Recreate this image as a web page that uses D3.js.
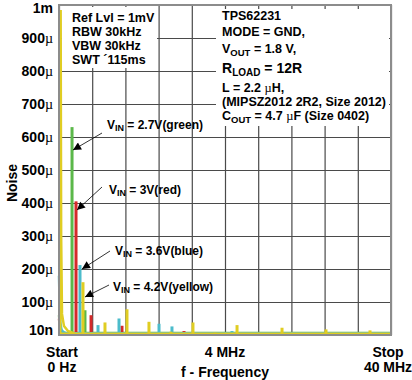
<!DOCTYPE html>
<html><head><meta charset="utf-8">
<script src="https://cdn.jsdelivr.net/npm/d3@7"></script>
<style>body{margin:0;background:#fff}svg{display:block;font-family:"Liberation Sans",Arial,sans-serif}</style>
</head><body><svg id="c" width="412" height="380"></svg>
<script>
// ---- data (frequency in MHz, noise in µV) ----
const yTickValues = [0,100,200,300,400,500,600,700,800,900,1000];
const yTickNums   = ["10n","100","200","300","400","500","600","700","800","900","1m"];
const yTickUnits  = ["","µ","µ","µ","µ","µ","µ","µ","µ","µ",""];
const xGridValues = [0,4,8,12,16,20,24,28,32,36,40];
const xTickLabels = [["Start","0 Hz"],["4 MHz",""],["Stop","40 MHz"]];
const xTickPos    = [0,20,40];

const seriesNames  = ["green","red","blue","yellow"];
const seriesColors = ["#5bb84a","#d42a2a","#4cbccb","#e0cd22"];

const greenPeakF  = [1.57,3.13,5.9,9.16,10.5,12.17,17.35,22.17,29.0,37.5];
const greenPeakA  = [630,75,9,7,5,6,5,4,4,4];
const redPeakF    = [2.05,3.86,7.59,11.33,15.06,16.99,22.89,25.18,34.7,38.4];
const redPeakA    = [405,60,28,8,12,6,7,5,4,4];
const bluePeakF   = [2.53,4.70,7.23,12.05,13.61,18.80,20.84,23.86,28.67,33.49,38.19];
const bluePeakA   = [212,30,50,34,26,7,12,7,6,5,5];
const yellowPeakF = [2.89,5.54,8.19,10.84,13.49,16.14,18.80,21.45,24.10,26.87,29.52,32.17,34.82,37.47];
const yellowPeakA = [160,38,78,40,10,38,7,30,6,22,5,17,5,14];

// low-frequency (near 0 Hz) trace points
const greenDcF  = [0.0,0.1,0.3,0.6,1.2];
const greenDcA  = [60,30,12,6,4];
const redDcF    = [0.0,0.1,0.3,0.6,1.2];
const redDcA    = [50,25,10,5,4];
const blueDcF   = [0.0,0.05,0.15,0.3,0.6,1.0];
const blueDcA   = [180,120,40,15,8,4];
const yellowDcF = [0.15,0.2,0.26,0.36,0.6,1.08,1.9];
const yellowDcA = [4,985,300,64,27,12,4];

const floorF = [0,40];
const floorLevels = [6,5,5,3.5];

// ---- layout ----
const svg = d3.select("#c");
const L=59,R=391,T=5,B=335;
const x = d3.scaleLinear().domain([0,40]).range([L,R]);
const y = d3.scaleLinear().domain([0,1000]).range([B,T]);

// grid
svg.append("g").attr("transform",`translate(0,${B})`)
  .call(d3.axisBottom(x).tickValues(xGridValues).tickSize(-(B-T)).tickFormat(""))
  .call(g=>g.select(".domain").remove())
  .selectAll("line").attr("stroke","#4a4a4a").attr("stroke-width",1.2);
svg.append("g").attr("transform",`translate(${L},0)`)
  .call(d3.axisLeft(y).tickValues(yTickValues).tickSize(-(R-L)).tickFormat(""))
  .call(g=>g.select(".domain").remove())
  .selectAll("line").attr("stroke","#4a4a4a").attr("stroke-width",1.2);

// annotation boxes (white)
svg.append("rect").attr("x",62).attr("y",7).attr("width",95).attr("height",61).attr("fill","#fff");
svg.append("rect").attr("x",216).attr("y",9).attr("width",173).attr("height",117).attr("fill","#fff");

// data
const peaks = [
  [greenPeakF,greenPeakA],[redPeakF,redPeakA],[bluePeakF,bluePeakA],[yellowPeakF,yellowPeakA]];
const dcs = [
  [greenDcF,greenDcA],[redDcF,redDcA],[blueDcF,blueDcA],[yellowDcF,yellowDcA]];
const line = d3.line().x(d=>x(d[0])).y(d=>y(d[1]));
seriesNames.forEach((n,i)=>{
  const g = svg.append("g").attr("class","s-"+n);
  g.append("path").datum(floorF.map(f=>[f,floorLevels[i]]))
    .attr("d",line).attr("fill","none").attr("stroke",seriesColors[i]).attr("stroke-width",2.5);
  g.append("path").datum(dcs[i][0].map((f,k)=>[f,dcs[i][1][k]]))
    .attr("d",line).attr("fill","none").attr("stroke",seriesColors[i]).attr("stroke-width",2.5);
  g.selectAll("rect").data(peaks[i][0].map((f,k)=>[f,peaks[i][1][k]])).join("rect")
    .attr("x",d=>x(d[0])-1.5).attr("width",3)
    .attr("y",d=>y(d[1])).attr("height",d=>y(0)-y(d[1]))
    .attr("fill",seriesColors[i]);
});

// frame
svg.append("rect").attr("x",L).attr("y",T).attr("width",R-L).attr("height",B-T)
  .attr("fill","none").attr("stroke","#8c8c8c").attr("stroke-width",2);

// y tick labels
const yl = svg.append("g").attr("font-size",14).attr("font-weight","bold").attr("text-anchor","end");
yTickValues.forEach((v,i)=>{
  let yy = y(v);
  if(i===0) yy = B-5;
  if(i===yTickValues.length-1) yy = T+3;
  const t = yl.append("text").attr("x",53).attr("y",yy).attr("dy","0.35em");
  t.append("tspan").text(yTickNums[i]);
  if(yTickUnits[i]) t.append("tspan").attr("font-weight","normal").attr("font-family","Liberation Serif, serif").text(yTickUnits[i]);
});

// x labels
const xl = svg.append("g").attr("font-size",14).attr("font-weight","bold").attr("text-anchor","middle");
xTickLabels.forEach((lab,i)=>{
  let xx = x(xTickPos[i]);
  if(i===0) xx = x(xTickPos[i])+3;
  if(i===2) xx = x(xTickPos[i])-3;
  xl.append("text").attr("x",xx).attr("y",357).text(lab[0]);
  if(lab[1]) xl.append("text").attr("x",xx).attr("y",372).text(lab[1]);
});
xl.append("text").attr("x",x(20)).attr("y",377).text("f - Frequency");
svg.append("text").attr("transform","translate(17,183) rotate(-90)").attr("text-anchor","middle")
  .attr("font-size",14).attr("font-weight","bold").text("Noise");

// left info box text
const lb = svg.append("g").attr("font-size",12.5).attr("font-weight","bold");
["Ref Lvl = 1mV","RBW 30kHz","VBW 30kHz","SWT ´115ms"].forEach((s,i)=>{
  lb.append("text").attr("x",72).attr("y",22+i*14).text(s);
});

// right info box text
const rb = svg.append("g").attr("font-size",12.5).attr("font-weight","bold");
function sub(t, parts){
  parts.forEach(p=>{
    const ts = t.append("tspan").text(p.t);
    if(p.sub) ts.attr("font-size",p.sub).attr("baseline-shift","-25%");
    if(p.sym) ts.attr("font-weight","normal").attr("font-family","Liberation Serif, serif");
  });
}
sub(rb.append("text").attr("x",222).attr("y",20),[{t:"TPS62231"}]);
sub(rb.append("text").attr("x",222).attr("y",36),[{t:"MODE = GND,"}]);
sub(rb.append("text").attr("x",222).attr("y",53),[{t:"V"},{t:"OUT",sub:9.5},{t:" = 1.8 V,"}]);
sub(rb.append("text").attr("x",222).attr("y",73).attr("font-size",14),[{t:"R"},{t:"LOAD",sub:10},{t:" = 12R"}]);
sub(rb.append("text").attr("x",222).attr("y",92),[{t:"L = 2.2 "},{t:"µ",sym:1},{t:"H,"}]);
sub(rb.append("text").attr("x",222).attr("y",106),[{t:"(MIPSZ2012 2R2, Size 2012)"}]);
sub(rb.append("text").attr("x",222).attr("y",120),[{t:"C"},{t:"OUT",sub:9.5},{t:" = 4.7 "},{t:"µ",sym:1},{t:"F (Size 0402)"}]);

// annotations
svg.append("defs").append("marker").attr("id","ah").attr("viewBox","0 0 10 10")
  .attr("refX",10).attr("refY",5).attr("markerWidth",10).attr("markerHeight",8)
  .attr("markerUnits","userSpaceOnUse").attr("orient","auto")
  .append("path").attr("d","M0,0L10,5L0,10Z").attr("fill","#000");
const ann = [
  {tx:107,ty:129,v:"2.7V(green)",x1:102,y1:133,x2:73,y2:150},
  {tx:109,ty:194,v:"3V(red)",x1:102,y1:187,x2:77,y2:210},
  {tx:115,ty:255,v:"3.6V(blue)",x1:110,y1:251,x2:82,y2:269},
  {tx:113,ty:291,v:"4.2V(yellow)",x1:109,y1:285,x2:85,y2:297}
];
const ag = svg.append("g").attr("font-size",12).attr("font-weight","bold");
ann.forEach(a=>{
  ag.append("line").attr("x1",a.x1).attr("y1",a.y1).attr("x2",a.x2).attr("y2",a.y2)
    .attr("stroke","#000").attr("stroke-width",0.8).attr("marker-end","url(#ah)");
  const t = ag.append("text").attr("x",a.tx).attr("y",a.ty);
  sub(t,[{t:"V"},{t:"IN",sub:9},{t:" = "+a.v}]);
});
</script></body></html>
